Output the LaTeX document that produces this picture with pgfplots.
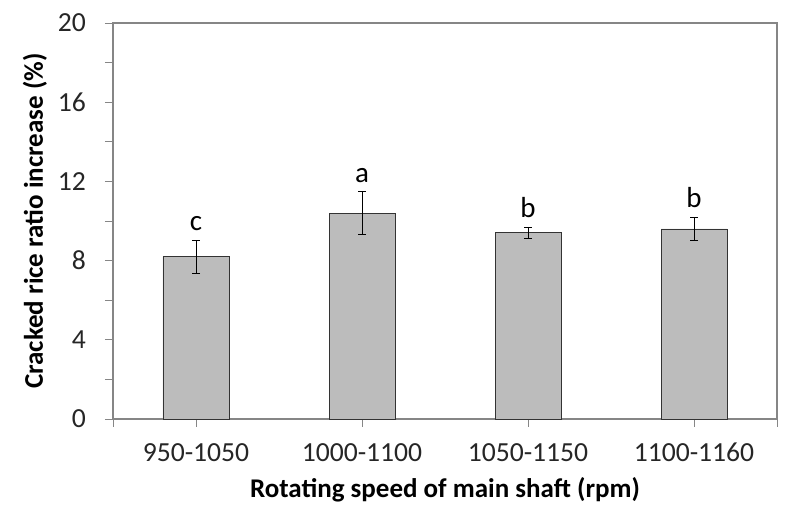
\documentclass[border=0pt]{standalone}
\usepackage{pgfplots}
\pgfplotsset{compat=1.18}
\usepackage{fontspec}
\setmainfont{Carlito}
\definecolor{axgray}{RGB}{134,134,134}
\definecolor{barfill}{RGB}{188,188,188}
\begin{document}
\begin{tikzpicture}
\begin{axis}[
  scale only axis,
  width=332pt, height=198pt,
  xmin=-0.5, xmax=3.5,
  ymin=0, ymax=20,
  xtick={0,1,2,3},
  xticklabels={950-1050,1000-1100,1050-1150,1100-1160},
  minor xtick={-0.5,3.5},
  ytick={0,4,8,12,16,20},
  minor ytick={2,6,10,14,18},
  tick align=outside,
  xtick pos=bottom, ytick pos=left,
  major tick length=4pt, minor tick length=4pt,
  every tick/.style={axgray, thin},
  axis line style={axgray, semithick},
  /pgf/number format/assume math mode=true,
  tick label style={font=\fontsize{13.8}{16}\selectfont, text=black!85},
  xticklabel style={anchor=north, text height=9.5pt, text depth=0pt, yshift=-4pt},
  yticklabel style={xshift=-6pt},
  xlabel={\textbf{Rotating speed of main shaft (rpm)}},
  ylabel={\textbf{Cracked rice ratio increase (\%)}},
  label style={font=\fontsize{13.5}{16}\selectfont},
  xlabel style={at={(axis description cs:0.5,-0.179)}, anchor=center},
  ylabel style={at={(axis description cs:-0.1175,0.5)}, anchor=center, rotate=0},
  clip=false,
]
\addplot[ybar, bar width=33pt, fill=barfill, draw=black!80, thin,
  error bars/.cd, y dir=both, y explicit,
  error bar style={black, thin},
  error mark options={rotate=90, mark size=2pt, black, thin}]
  coordinates {
  (0,8.2) +- (0,0.83)
  (1,10.4) +- (0,1.1)
  (2,9.4) +- (0,0.3)
  (3,9.6) +- (0,0.6)
};
\addplot[only marks, mark=none, nodes near coords, point meta=explicit symbolic,
  every node near coord/.style={anchor=south, font=\fontsize{14.5}{16}\selectfont, yshift=1pt}]
  coordinates {
  (0,9.03) [c]
  (1,11.5) [a]
  (2,9.7) [b]
  (3,10.2) [b]
};
\path[use as bounding box] ([xshift=-56.5pt,yshift=-51pt]current axis.south west) rectangle ([xshift=11.5pt,yshift=11.5pt]current axis.north east);
\draw[axgray, semithick] (rel axis cs:0,1) -- (rel axis cs:1,1) -- (rel axis cs:1,0);
\end{axis}
\end{tikzpicture}
\end{document}
